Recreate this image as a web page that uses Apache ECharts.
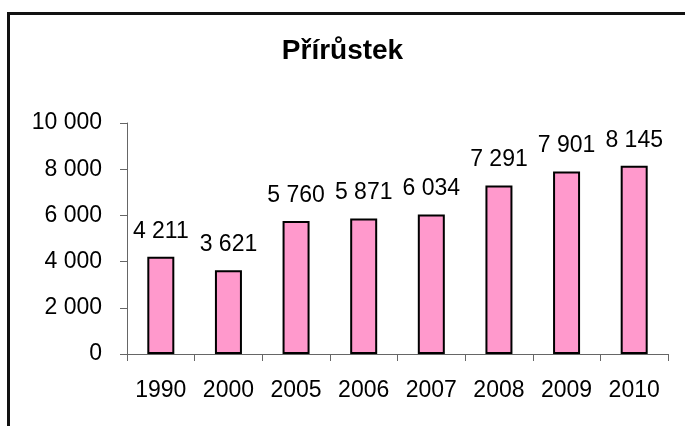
<!DOCTYPE html>
<html>
<head>
<meta charset="utf-8">
<script src="https://cdn.jsdelivr.net/npm/echarts@6/dist/echarts.min.js"></script>
<style>
  html, body { margin: 0; padding: 0; background: #fff; }
  #frame {
    position: absolute; left: 7px; top: 12px;
    width: 700px; height: 440px;
    border: 3px solid #111; box-sizing: border-box;
  }
  #box { position: absolute; left: 0; top: 0; width: 685px; height: 426px; }
</style>
</head>
<body>
<div id="frame"></div>
<div id="box"></div>
<script>
// data
const years = ['1990', '2000', '2005', '2006', '2007', '2008', '2009', '2010'];
const values = [4211, 3621, 5760, 5871, 6034, 7291, 7901, 8145];

const font = '"Liberation Sans", Arial, sans-serif';

// 12345 -> "12 345"
const fmt = (v) => String(v).replace(/\B(?=(\d{3})+(?!\d))/g, ' ');

const myChart = echarts.init(document.getElementById('box'), null, { renderer: 'canvas' });
const option = {
  animation: false,
  title: {
    text: 'Přírůstek',
    left: 'center',
    top: 32,
    textStyle: { fontFamily: font, fontSize: 28, fontWeight: 'bold', color: '#000' }
  },
  grid: { left: 127, right: 17, top: 123, bottom: 72, containLabel: false },
  xAxis: {
    type: 'category',
    data: years,
    axisLine: { lineStyle: { color: '#666', width: 1 } },
    axisTick: { show: true, length: 7, lineStyle: { color: '#666' } },
    axisLabel: { color: '#000', fontFamily: font, fontSize: 23, margin: 25 }
  },
  yAxis: {
    type: 'value',
    min: 0,
    max: 10000,
    interval: 2000,
    splitLine: { show: false },
    axisLine: { show: true, lineStyle: { color: '#666', width: 1 } },
    axisTick: { show: true, length: 7, lineStyle: { color: '#666' } },
    axisLabel: { color: '#000', fontFamily: font, fontSize: 23, margin: 25, formatter: fmt }
  },
  series: [
    {
      type: 'bar',
      data: values,
      barWidth: 27,
      itemStyle: { color: '#FF99CC', borderColor: '#000', borderWidth: 2 },
      label: {
        show: true,
        position: 'top',
        distance: 14,
        color: '#000',
        fontFamily: font,
        fontSize: 23,
        formatter: (p) => fmt(p.value)
      }
    }
  ]
};
myChart.setOption(option);
</script>
</body>
</html>
